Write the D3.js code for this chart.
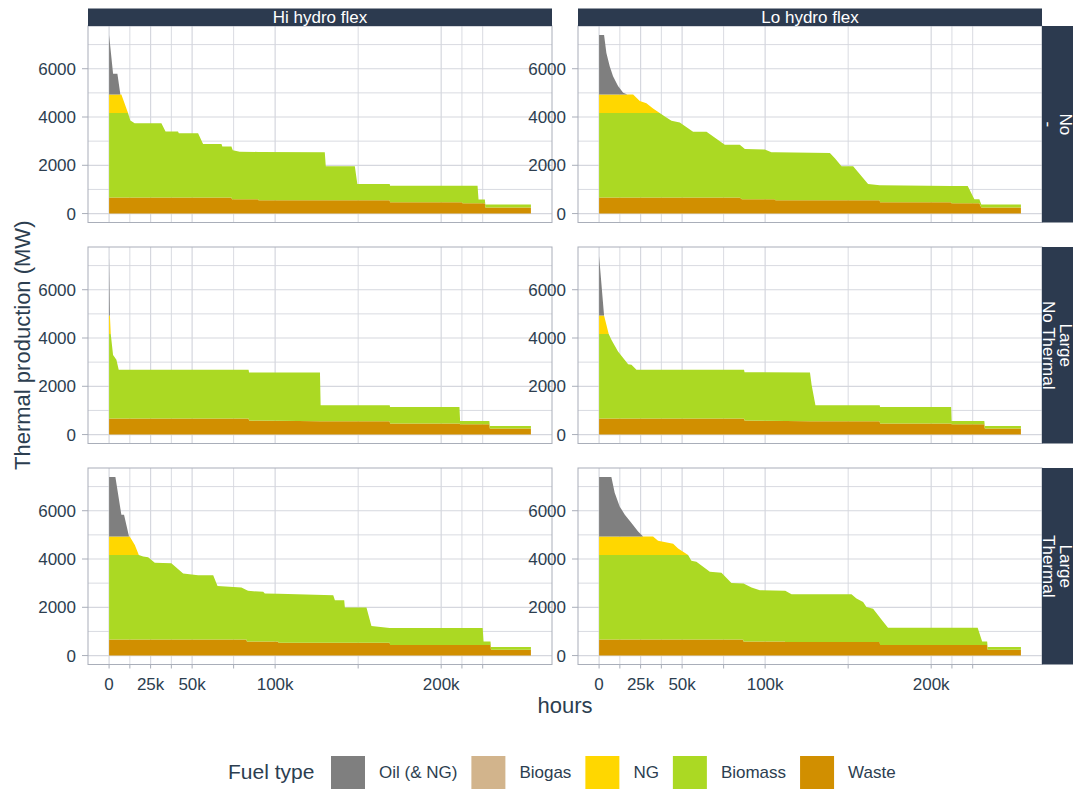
<!DOCTYPE html>
<html>
<head>
<meta charset="utf-8">
<script src="https://cdn.jsdelivr.net/npm/d3@7"></script>
<style>
  body { margin: 0; background: #ffffff; }
  svg text { font-family: "Liberation Sans", Arial, sans-serif; }
</style>
</head>
<body>
<svg id="chart" width="1073" height="791"></svg>
<script>
// ---- categories ----
const fuels = ["Oil (& NG)", "Biogas", "NG", "Biomass", "Waste"];
const fuelColors = ["#7f7f7f", "#d2b48c", "#ffd700", "#abd923", "#d18f00"];
const stackOrder = ["Waste", "Biomass", "NG", "Biogas", "Oil (& NG)"];
const hydroCases = ["Hi hydro flex", "Lo hydro flex"];
const storageCases = [["No", "-"], ["Large", "No Thermal"], ["Large", "Thermal"]];

// ---- axis ticks ----
const xTickValues = [0, 25000, 50000, 100000, 200000];
const xTickLabels = ["0", "25k", "50k", "100k", "200k"];
const xMinorGrid = [12500, 37500, 75000, 150000, 212500, 225000];
const yTickValues = [0, 2000, 4000, 6000];
const yTickLabels = ["0", "2000", "4000", "6000"];
const yMinorGrid = [1000, 3000, 5000, 7000];
const horizon = 254040;
const yMax = 7400;

// ---- duration curves per fuel: [hours, MW] breakpoints ----
// panel order: Hi/No, Lo/No, Hi/Large-NoThermal, Lo/Large-NoThermal, Hi/Large-Thermal, Lo/Large-Thermal
const oilCurves = [
  [[0,2470],[2400,860],[5000,860],[6800,0]],
  [[0,2470],[3000,2470],[4400,1720],[6400,1170],[8400,760],[11400,350],[14500,70],[17000,0]],
  [[0,2470],[500,0]],
  [[0,2470],[3000,0]],
  [[0,2470],[3800,2470],[7400,900],[9000,900],[12000,0]],
  [[0,2470],[7400,2470],[9400,1810],[12400,1250],[15500,900],[19500,560],[23500,210],[26500,0]]
];
const biogasCurves = [
  [[0,0]], [[0,0]], [[0,0]], [[0,0]], [[0,0]], [[0,0]]
];
const ngCurves = [
  [[0,760],[7400,760],[11400,0]],
  [[0,760],[20500,760],[24500,490],[28500,400],[32500,180],[36500,0]],
  [[0,760],[500,760],[1000,0]],
  [[0,760],[3000,760],[5800,0]],
  [[0,760],[12400,760],[15500,410],[17900,0]],
  [[0,760],[32500,760],[35500,590],[44600,460],[47600,270],[53600,0]]
];
const biomassCurves = [
  [[0,3500],[11400,3500],[12800,3190],[15400,3070],[31500,3070],[34000,2730],[41500,2730],[42000,2660],
   [53600,2660],[56600,2210],[67700,2210],[68200,2110],[73700,2110],[74000,2130],[74500,2030],[78700,1970],
   [89700,1965],[90000,2005],[129900,1990],[130500,1410],[148000,1410],[149500,670],[169000,670],[169200,680],
   [212600,680],[212800,720],[221900,720],[222500,150],[226300,150],[226600,130],[254040,130]],
  [[0,3500],[36500,3500],[39600,3350],[43600,3170],[48600,3100],[56600,2720],[64700,2720],[75700,2180],
   [84700,2180],[86000,2185],[87800,2080],[99800,2060],[103800,1950],[105800,1948],[106200,1988],[139000,1960],
   [142000,1740],[146000,1410],[153000,1410],[162000,680],[169000,620],[169200,700],[212000,676],[212200,716],
   [222000,710],[226000,160],[229000,160],[230200,130],[254040,130]],
  [[0,3500],[1000,3500],[2400,2630],[4400,2430],[5800,2010],[84000,2010],[84300,1990],[127000,2020],
   [127400,660],[169000,660],[169200,680],[211000,680],[211400,130],[229000,130],[229300,110],[254040,110]],
  [[0,3500],[5800,3500],[7400,3260],[11400,2770],[17500,2240],[19500,2220],[22500,2010],[87300,2010],
   [87600,2000],[127000,2020],[128000,1500],[130300,660],[169000,660],[169200,680],[212000,680],[212300,130],
   [232000,130],[232300,110],[254040,110]],
  [[0,3500],[17900,3500],[20500,3430],[23500,3400],[27500,3180],[37500,3150],[44600,2730],[53600,2660],
   [62700,2660],[65300,2210],[79700,2150],[82700,2045],[83000,2125],[83700,2100],[92800,2060],[93800,1990],
   [101800,1976],[102100,2026],[135000,1970],[136000,1760],[141600,1760],[142000,1460],[155000,1460],
   [158000,690],[169000,610],[169200,700],[225000,700],[225500,140],[229700,140],[230000,110],[254040,110]],
  [[0,3500],[53600,3500],[55600,3260],[58600,3220],[66700,2800],[73700,2760],[79700,2340],[86700,2320],
   [87000,2410],[91800,2240],[96800,2130],[111800,2100],[112100,2120],[115900,1980],[152000,1980],
   [155000,1800],[159000,1660],[161000,1450],[165000,1380],[169000,1029],[169200,1131],[174000,710],
   [228000,710],[230700,140],[233700,140],[234000,110],[254040,110]]
];
const wasteCurves = [
  [[0,670],[73700,670],[74000,590],[89700,590],[90000,550],[169000,550],[169200,470],[212600,470],
   [212800,430],[226300,430],[226600,250],[254040,250]],
  [[0,670],[84700,670],[86000,590],[105800,590],[106200,550],[169000,550],[169200,470],[212000,470],
   [212200,430],[229000,430],[230200,250],[254040,250]],
  [[0,670],[84000,670],[84300,580],[127000,550],[169000,550],[169200,460],[211000,460],[211400,430],
   [229000,430],[229300,250],[254040,250]],
  [[0,670],[87300,670],[87600,580],[127000,550],[169000,550],[169200,460],[212000,460],[212300,430],
   [232000,430],[232300,250],[254040,250]],
  [[0,670],[82700,670],[83000,580],[101800,580],[102100,530],[169000,530],[169200,440],[229700,440],
   [230000,240],[254040,240]],
  [[0,670],[86700,670],[87000,580],[111800,580],[112100,560],[169000,560],[169200,440],[233700,440],
   [234000,240],[254040,240]]
];

// ---- layout ----
const textColor = "#2c3e50";
const stripColor = "#2c3a4f";
const gridColor = "#d5d7de";
const borderColor = "#a9aeb9";
const colX = [88, 578];
const rowY = [26, 247, 468];
const panelW = 464, panelH = 196.5;

const svg = d3.select("#chart");

const expandX = horizon * 0.05;
const x = d3.scaleLinear().domain([-expandX, horizon + expandX]).range([0, panelW]);
const y = d3.scaleLinear().domain([-yMax * 0.05, yMax * 1.05]).range([panelH, 0]);

const curvesByFuel = {
  "Oil (& NG)": oilCurves,
  "Biogas": biogasCurves,
  "NG": ngCurves,
  "Biomass": biomassCurves,
  "Waste": wasteCurves
};
const colorOf = d3.scaleOrdinal().domain(fuels).range(fuelColors);

// piecewise-linear reading of a breakpoint curve
function valueAt(curve, h) {
  if (h <= curve[0][0]) return curve[0][1];
  for (let i = 1; i < curve.length; i++) {
    if (h <= curve[i][0]) {
      const [x0, y0] = curve[i - 1], [x1, y1] = curve[i];
      return x1 === x0 ? y1 : y0 + (y1 - y0) * (h - x0) / (x1 - x0);
    }
  }
  return curve[curve.length - 1][1];
}

const area = d3.area()
  .x(d => x(d.data.hours))
  .y0(d => y(d[0]))
  .y1(d => y(d[1]));

const stack = d3.stack().keys(stackOrder);

svg.append("defs").append("clipPath").attr("id", "panelClip")
  .append("rect").attr("width", panelW).attr("height", panelH);

for (let r = 0; r < 3; r++) {
  for (let c = 0; c < 2; c++) {
    const p = r * 2 + c;
    const g = svg.append("g").attr("transform", `translate(${colX[c]},${rowY[r]})`);

    // grid
    const grid = g.append("g");
    grid.selectAll(".hx").data(yMinorGrid.concat(yTickValues)).join("line")
      .attr("x1", 0).attr("x2", panelW)
      .attr("y1", d => y(d)).attr("y2", d => y(d))
      .attr("stroke", gridColor).attr("stroke-width", d => yTickValues.includes(d) ? 1.2 : 0.9);
    grid.selectAll(".vx").data(xMinorGrid.concat(xTickValues)).join("line")
      .attr("y1", 0).attr("y2", panelH)
      .attr("x1", d => x(d)).attr("x2", d => x(d))
      .attr("stroke", gridColor).attr("stroke-width", d => xTickValues.includes(d) ? 1.2 : 0.9);

    // stacked areas
    const hoursSet = new Set();
    stackOrder.forEach(f => curvesByFuel[f][p].forEach(pt => hoursSet.add(pt[0])));
    hoursSet.add(horizon);
    const hours = Array.from(hoursSet).filter(h => h <= horizon).sort((a, b) => a - b);
    const rows = hours.map(h => {
      const o = { hours: h };
      stackOrder.forEach(f => { o[f] = Math.max(0, valueAt(curvesByFuel[f][p], h)); });
      return o;
    });
    const layers = stack(rows);
    g.append("g").attr("clip-path", "url(#panelClip)")
      .selectAll("path").data(layers).join("path")
      .attr("d", area)
      .attr("fill", d => colorOf(d.key));

    // border
    g.append("rect").attr("width", panelW).attr("height", panelH)
      .attr("fill", "none").attr("stroke", borderColor).attr("stroke-width", 1);

    // y axis labels and ticks
    g.selectAll(".yl").data(yTickValues).join("text")
      .attr("x", -12).attr("y", d => y(d)).attr("dy", "0.36em")
      .attr("text-anchor", "end").attr("font-size", 17).attr("fill", textColor)
      .text((d, i) => yTickLabels[i]);
    g.selectAll(".yt").data(yTickValues).join("line")
      .attr("x1", -6).attr("x2", 0).attr("y1", d => y(d)).attr("y2", d => y(d))
      .attr("stroke", borderColor);

    // x ticks + labels on bottom row
    if (r === 2) {
      g.selectAll(".xt").data(xMinorGrid.concat(xTickValues)).join("line")
        .attr("x1", d => x(d)).attr("x2", d => x(d))
        .attr("y1", panelH).attr("y2", panelH + 4)
        .attr("stroke", borderColor);
      g.selectAll(".xl").data(xTickValues).join("text")
        .attr("x", d => x(d)).attr("y", panelH + 25)
        .attr("text-anchor", "middle").attr("font-size", 17).attr("fill", textColor)
        .text((d, i) => xTickLabels[i]);
    }
  }
}

// column strips
hydroCases.forEach((name, c) => {
  svg.append("rect").attr("x", colX[c]).attr("y", 8.5).attr("width", panelW).attr("height", 17.5)
    .attr("fill", stripColor);
  svg.append("text").attr("x", colX[c] + panelW / 2).attr("y", 17.8)
    .attr("dominant-baseline", "central")
    .attr("text-anchor", "middle").attr("font-size", 17).attr("fill", "#ffffff").text(name);
});

// row strips (text reads top to bottom)
storageCases.forEach((lines, r) => {
  const sx = colX[1] + panelW;
  svg.append("rect").attr("x", sx).attr("y", rowY[r]).attr("width", 40).attr("height", panelH)
    .attr("fill", stripColor);
  const tg = svg.append("g")
    .attr("transform", `translate(${sx + 14.75},${rowY[r] + panelH / 2}) rotate(90)`);
  lines.forEach((t, i) => {
    tg.append("text").attr("x", 0).attr("y", i === 0 ? -8.25 : 8.25)
      .attr("dominant-baseline", "central").attr("text-anchor", "middle")
      .attr("font-size", 17).attr("fill", "#ffffff").text(t);
  });
});

// axis titles
svg.append("text").attr("x", (colX[0] + colX[1] + panelW) / 2).attr("y", 713)
  .attr("text-anchor", "middle").attr("font-size", 22).attr("fill", textColor).text("hours");
svg.append("text")
  .attr("transform", `translate(22,${rowY[0] + (rowY[2] + panelH - rowY[0]) / 2}) rotate(-90)`)
  .attr("dominant-baseline", "central")
  .attr("text-anchor", "middle").attr("font-size", 22).attr("fill", textColor)
  .text("Thermal production (MW)");

// legend
const lg = svg.append("g");
lg.append("text").attr("x", 228).attr("y", 772).attr("dy", "0.35em")
  .attr("font-size", 21).attr("fill", textColor).text("Fuel type");
let lx = 331;
fuels.forEach((f, i) => {
  lg.append("rect").attr("x", lx).attr("y", 756).attr("width", 34).attr("height", 33)
    .attr("fill", fuelColors[i]);
  const t = lg.append("text").attr("x", lx + 48).attr("y", 772).attr("dy", "0.35em")
    .attr("font-size", 17).attr("fill", textColor).text(f);
  lx = lx + 48 + t.node().getComputedTextLength() + 14;
});
</script>
</body>
</html>
